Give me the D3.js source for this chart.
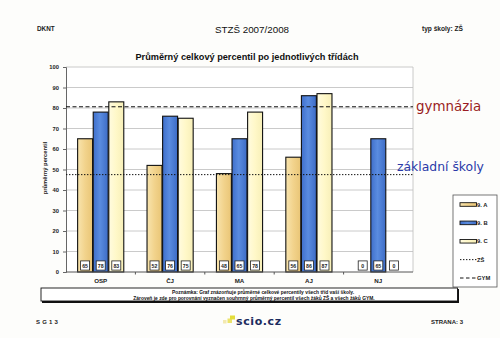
<!DOCTYPE html>
<html>
<head>
<meta charset="utf-8">
<script src="https://cdn.jsdelivr.net/npm/d3@7"></script>
<style>
  html, body { margin: 0; padding: 0; background: #fdfdfb; }
  svg { display: block; }
</style>
</head>
<body>
<svg id="chart" width="500" height="338"></svg>
<script>
// Subjects on the x axis
const categories = ["OSP", "ČJ", "MA", "AJ", "NJ"];
// Classes (one bar per class in each subject)
const series = ["9. A", "9. B", "9. C"];
// Average percentile per class, in subject order
const valuesA = [65, 52, 48, 56, 0];
const valuesB = [78, 76, 65, 86, 65];
const valuesC = [83, 75, 78, 87, 0];
// Overall averages for reference lines
const avgZS = 47.5;
const avgGYM = 80.6;
const yTicks = [0, 10, 20, 30, 40, 50, 60, 70, 80, 90, 100];

const seriesValues = [valuesA, valuesB, valuesC];
const fills = ["url(#gA)", "url(#gB)", "url(#gC)"];

const svg = d3.select("#chart");
const sans = "'Liberation Sans', Arial, sans-serif";

// Bar gradients
const defs = svg.append("defs");
function grad(id, stops) {
  const g = defs.append("linearGradient").attr("id", id)
    .attr("x1", "0").attr("x2", "1").attr("y1", "0").attr("y2", "0");
  stops.forEach(([o, c]) => g.append("stop").attr("offset", o).attr("stop-color", c));
}
grad("gA", [[0, "#f8e4ae"], [0.5, "#f2d38c"], [1, "#e9c576"]]);
grad("gB", [[0, "#3f6fcb"], [0.45, "#5a8ce0"], [1, "#3d6cc6"]]);
grad("gC", [[0, "#fffbe0"], [0.5, "#fff8c8"], [1, "#f7efb8"]]);

const plot = { left: 66, right: 413, top: 67, bottom: 272 };

const x = d3.scaleBand().domain(categories).range([plot.left, plot.right]).padding(0);
const groupW = x.bandwidth() * 0.665;
const xs = d3.scaleBand().domain(series).range([0, groupW]).paddingInner(0.04);
const y = d3.scaleLinear().domain([0, 100]).range([plot.bottom, plot.top]);

// Header
svg.append("text").attr("x", 37).attr("y", 31).attr("font-family", sans)
  .attr("font-size", 6.4).attr("font-weight", "bold").attr("fill", "#222").text("DKNT");
svg.append("text").attr("x", 252).attr("y", 33).attr("text-anchor", "middle").attr("font-family", sans)
  .attr("font-size", 9.8).attr("fill", "#111").text("STZŠ 2007/2008");
svg.append("text").attr("x", 463).attr("y", 31).attr("text-anchor", "end").attr("font-family", sans)
  .attr("font-size", 6.6).attr("font-weight", "bold").attr("fill", "#222").text("typ školy: ZŠ");
svg.append("text").attr("x", 247).attr("y", 60).attr("text-anchor", "middle").attr("font-family", sans)
  .attr("font-size", 9.2).attr("font-weight", "bold").attr("fill", "#111")
  .text("Průměrný celkový percentil po jednotlivých třídách");

// Plot background and grid
svg.append("rect").attr("x", plot.left).attr("y", plot.top)
  .attr("width", plot.right - plot.left).attr("height", plot.bottom - plot.top)
  .attr("fill", "#ffffff");
svg.append("g").selectAll("line").data(yTicks.filter(t => t > 0)).join("line")
  .attr("x1", plot.left).attr("x2", plot.right)
  .attr("y1", d => y(d)).attr("y2", d => y(d))
  .attr("stroke", "#bdbdbd").attr("stroke-width", 0.8);
svg.append("line").attr("x1", plot.right).attr("x2", plot.right)
  .attr("y1", plot.top).attr("y2", plot.bottom).attr("stroke", "#bdbdbd").attr("stroke-width", 0.8);

// Y axis
const yAxis = svg.append("g").attr("transform", `translate(${plot.left},0)`)
  .call(d3.axisLeft(y).tickValues(yTicks).tickSize(3).tickPadding(4));
yAxis.select(".domain").attr("stroke", "#666");
yAxis.selectAll(".tick line").attr("stroke", "#666");
yAxis.selectAll(".tick text").attr("font-family", sans).attr("font-size", 5.8)
  .attr("font-weight", "bold").attr("fill", "#222");
svg.append("text").attr("transform", "translate(47,168) rotate(-90)")
  .attr("text-anchor", "middle").attr("font-family", sans).attr("font-size", 5.8)
  .attr("font-weight", "bold").attr("fill", "#222").text("průměrný percentil");

// Bars
const groups = svg.append("g").selectAll("g").data(categories).join("g")
  .attr("transform", c => `translate(${x(c) + (x.bandwidth() - groupW) / 2},0)`);
series.forEach((s, si) => {
  groups.append("rect")
    .attr("x", xs(s)).attr("width", xs.bandwidth())
    .attr("y", (c, ci) => y(seriesValues[si][ci]))
    .attr("height", (c, ci) => plot.bottom - y(seriesValues[si][ci]))
    .attr("fill", fills[si]).attr("stroke", "#111").attr("stroke-width", 1.1)
    .attr("display", (c, ci) => seriesValues[si][ci] > 0 ? null : "none");
});

// X axis line with ticks at band edges
svg.append("line").attr("x1", plot.left).attr("x2", plot.right)
  .attr("y1", plot.bottom).attr("y2", plot.bottom).attr("stroke", "#555").attr("stroke-width", 1);
svg.append("g").selectAll("line").data(categories.slice(1)).join("line")
  .attr("x1", c => x(c)).attr("x2", c => x(c))
  .attr("y1", plot.bottom).attr("y2", plot.bottom + 2.5).attr("stroke", "#555");
svg.append("g").selectAll("text").data(categories).join("text")
  .attr("x", c => x(c) + x.bandwidth() / 2).attr("y", 282.5)
  .attr("text-anchor", "middle").attr("font-family", sans).attr("font-size", 6.2)
  .attr("font-weight", "bold").attr("fill", "#222").text(c => c);

// Value boxes at bar feet
series.forEach((s, si) => {
  const lab = groups.append("g")
    .attr("transform", (c, ci) => `translate(${xs(s) + xs.bandwidth() / 2},265.5)`);
  lab.append("rect").attr("x", -4.5).attr("y", -4.6).attr("width", 9).attr("height", 9.2)
    .attr("fill", "#fff").attr("stroke", "#222").attr("stroke-width", 0.8);
  lab.append("text").attr("y", 2).attr("text-anchor", "middle").attr("font-family", sans)
    .attr("font-size", 5.2).attr("font-weight", "bold").attr("fill", "#222")
    .text((c, ci) => seriesValues[si][ci]);
});

// Reference lines
svg.append("line").attr("x1", plot.left).attr("x2", plot.right)
  .attr("y1", y(avgGYM)).attr("y2", y(avgGYM))
  .attr("stroke", "#111").attr("stroke-width", 1).attr("stroke-dasharray", "4,2.5");
svg.append("line").attr("x1", plot.left).attr("x2", plot.right)
  .attr("y1", y(avgZS)).attr("y2", y(avgZS))
  .attr("stroke", "#111").attr("stroke-width", 1).attr("stroke-dasharray", "1.4,1.6");
svg.append("text").attr("x", 416).attr("y", y(avgGYM) + 4.5)
  .attr("font-family", "'DejaVu Sans', sans-serif").attr("font-size", 13.4)
  .attr("fill", "#9a1c22").text("gymnázia");
svg.append("text").attr("x", 397).attr("y", y(avgZS) - 4)
  .attr("font-family", "'DejaVu Sans', sans-serif").attr("font-size", 12.4)
  .attr("fill", "#2a3aa8").text("základní školy");

// Legend
const lg = svg.append("g");
lg.append("rect").attr("x", 453).attr("y", 195).attr("width", 44).attr("height", 92)
  .attr("fill", "#fff").attr("stroke", "#555").attr("stroke-width", 0.8);
const legendRows = [
  { label: "9. A", fill: fills[0] },
  { label: "9. B", fill: fills[1] },
  { label: "9. C", fill: fills[2] },
  { label: "ZŠ", dash: "1.4,1.6" },
  { label: "GYM", dash: "3.5,2.5" }
];
const ly = d3.scalePoint().domain(legendRows.map(r => r.label)).range([204.5, 278]);
legendRows.forEach(r => {
  const yy = ly(r.label);
  if (r.fill) {
    lg.append("rect").attr("x", 460).attr("y", yy - 1.8).attr("width", 16.5).attr("height", 3.6)
      .attr("fill", r.fill).attr("stroke", "#111").attr("stroke-width", 0.9);
  } else {
    lg.append("line").attr("x1", 460).attr("x2", 476.5).attr("y1", yy).attr("y2", yy)
      .attr("stroke", "#111").attr("stroke-width", 1).attr("stroke-dasharray", r.dash);
  }
  lg.append("text").attr("x", 477).attr("y", yy + 2).attr("font-family", sans)
    .attr("font-size", 5.8).attr("font-weight", "bold").attr("fill", "#222").text(r.label);
});

// Note box
svg.append("rect").attr("x", 42).attr("y", 289).attr("width", 417).attr("height", 14)
  .attr("fill", "#111");
svg.append("rect").attr("x", 41).attr("y", 288).attr("width", 416.5).attr("height", 13)
  .attr("fill", "#fff").attr("stroke", "#111").attr("stroke-width", 0.9);
svg.append("text").attr("x", 263).attr("y", 294.3).attr("text-anchor", "middle").attr("font-family", sans)
  .attr("font-size", 4.9).attr("font-weight", "bold").attr("fill", "#111")
  .text("Poznámka: Graf znázorňuje průměrné celkové percentily všech tříd vaší školy.");
svg.append("text").attr("x", 254).attr("y", 299.8).attr("text-anchor", "middle").attr("font-family", sans)
  .attr("font-size", 4.9).attr("font-weight", "bold").attr("fill", "#111")
  .text("Zároveň je zde pro porovnání vyznačen souhrnný průměrný percentil všech žáků ZŠ a všech žáků GYM.");

// Footer
svg.append("text").attr("x", 36).attr("y", 324).attr("font-family", sans)
  .attr("font-size", 6).attr("font-weight", "bold").attr("fill", "#222")
  .attr("letter-spacing", 2.2).text("SG13");
svg.append("rect").attr("x", 223).attr("y", 320).attr("width", 3.5).attr("height", 3.5).attr("fill", "#f3e9b0");
svg.append("rect").attr("x", 227.5).attr("y", 318.5).attr("width", 4.5).attr("height", 4.5).attr("fill", "#ece36a");
svg.append("rect").attr("x", 230).attr("y", 315.5).attr("width", 5).attr("height", 4).attr("fill", "#e4dd3a");
svg.append("text").attr("x", 236).attr("y", 325).attr("font-family", "'DejaVu Sans', sans-serif")
  .attr("font-size", 11).attr("font-weight", "bold").attr("fill", "#1c2b5e")
  .attr("letter-spacing", 0.6).text("scio.cz");
svg.append("text").attr("x", 463).attr("y", 324).attr("text-anchor", "end").attr("font-family", sans)
  .attr("font-size", 6).attr("font-weight", "bold").attr("fill", "#222").text("STRANA: 3");
</script>
</body>
</html>
